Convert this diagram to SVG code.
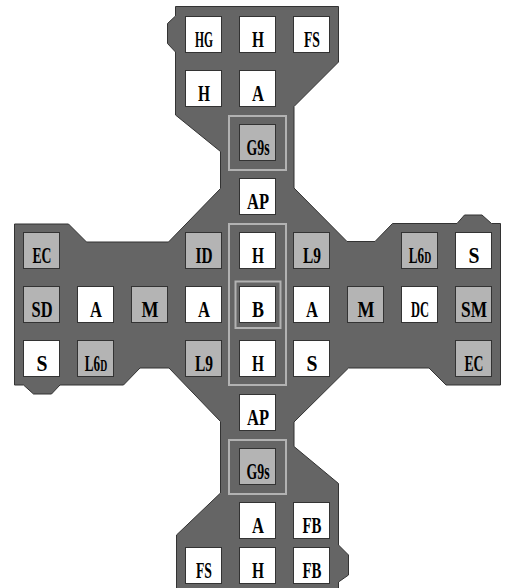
<svg xmlns="http://www.w3.org/2000/svg" width="509" height="588" viewBox="0 0 509 588">
<style>
.bg{fill:#656565;stroke:#333;stroke-width:1}
.fr{fill:none;stroke:#b2b2b2;stroke-width:2}
.w{fill:#fff;stroke:#333;stroke-width:1}
.g{fill:#b4b4b4;stroke:#333;stroke-width:1}
text{font-family:"Liberation Serif","Times New Roman",serif;font-size:23px;font-weight:bold;fill:#000;text-anchor:middle}
.sm{font-size:17px}
</style>
<polygon class="bg" points="175.5,6.5 338.5,6.5 338.5,62 294,106.5 294,188 347,241.5 375,241.5 392.5,223.5 457,223.5 464.5,215 482,215 491.5,223.5 500.5,223.5 500.5,385 446,385 429,368 348.5,368 294,422 294,446.5 338.5,483.5 338.5,545 348.5,555 348.5,575 338.5,582 338.5,600 176.5,600 176.5,535 220.5,493 220.5,421.5 169,368 140,368 123.5,385 60,385 51.5,394 33.5,394 23.5,385 14.5,385 14.5,224 68.5,224 86.5,242 168.5,242 220.5,188.5 220.5,151.5 175.5,115 175.5,52 167.5,43.5 167.5,23.5 175.5,16"/>
<g id="frames">
<rect class="fr" x="229" y="116" width="57" height="54"/>
<rect class="fr" x="229" y="224" width="57" height="161"/>
<rect class="fr" x="235.5" y="281.5" width="45" height="46.5"/>
<rect class="fr" x="229" y="440" width="57" height="54"/>
</g>
<g id="connectors"/>
<g id="n-HG"><rect class="w" x="185.5" y="16.5" width="36" height="36"/><text x="204" y="47" textLength="18" lengthAdjust="spacingAndGlyphs">HG</text></g>
<g id="n-H1"><rect class="w" x="239.5" y="16.5" width="36" height="36"/><text x="258" y="47" textLength="12" lengthAdjust="spacingAndGlyphs">H</text></g>
<g id="n-FS1"><rect class="w" x="293.5" y="16.5" width="36" height="36"/><text x="312" y="47" textLength="16" lengthAdjust="spacingAndGlyphs">FS</text></g>
<g id="n-H2"><rect class="w" x="185.5" y="70.5" width="36" height="36"/><text x="204" y="101" textLength="12" lengthAdjust="spacingAndGlyphs">H</text></g>
<g id="n-A1"><rect class="w" x="239.5" y="70.5" width="36" height="36"/><text x="258" y="101" textLength="12" lengthAdjust="spacingAndGlyphs">A</text></g>
<g id="n-G9s1"><rect class="g" x="239.5" y="124.5" width="36" height="36"/><text x="258" y="155" textLength="23" lengthAdjust="spacingAndGlyphs">G9s</text></g>
<g id="n-AP1"><rect class="w" x="239.5" y="178.5" width="36" height="36"/><text x="258" y="209" textLength="22" lengthAdjust="spacingAndGlyphs">AP</text></g>
<g id="n-EC1"><rect class="g" x="23.5" y="232.5" width="36" height="36"/><text x="42" y="263" textLength="19" lengthAdjust="spacingAndGlyphs">EC</text></g>
<g id="n-ID"><rect class="g" x="185.5" y="232.5" width="36" height="36"/><text x="204" y="263" textLength="17" lengthAdjust="spacingAndGlyphs">ID</text></g>
<g id="n-H3"><rect class="w" x="239.5" y="232.5" width="36" height="36"/><text x="258" y="263" textLength="12" lengthAdjust="spacingAndGlyphs">H</text></g>
<g id="n-L9a"><rect class="g" x="293.5" y="232.5" width="36" height="36"/><text x="312" y="263" textLength="18" lengthAdjust="spacingAndGlyphs">L9</text></g>
<g id="n-L6Da"><rect class="g" x="401.5" y="232.5" width="36" height="36"/><text transform="translate(420,263) scale(0.57,1)">L6<tspan class="sm">D</tspan></text></g>
<g id="n-S1"><rect class="w" x="455.5" y="232.5" width="36" height="36"/><text x="474" y="263" textLength="11" lengthAdjust="spacingAndGlyphs">S</text></g>
<g id="n-SD"><rect class="g" x="23.5" y="286.5" width="36" height="36"/><text x="42" y="317" textLength="21" lengthAdjust="spacingAndGlyphs">SD</text></g>
<g id="n-A2"><rect class="w" x="77.5" y="286.5" width="36" height="36"/><text x="96" y="317" textLength="12" lengthAdjust="spacingAndGlyphs">A</text></g>
<g id="n-M1"><rect class="g" x="131.5" y="286.5" width="36" height="36"/><text x="150" y="317" textLength="17" lengthAdjust="spacingAndGlyphs">M</text></g>
<g id="n-A3"><rect class="w" x="185.5" y="286.5" width="36" height="36"/><text x="204" y="317" textLength="12" lengthAdjust="spacingAndGlyphs">A</text></g>
<g id="n-B"><rect class="w" x="239.5" y="286.5" width="36" height="36"/><text x="258" y="317" textLength="12" lengthAdjust="spacingAndGlyphs">B</text></g>
<g id="n-A4"><rect class="w" x="293.5" y="286.5" width="36" height="36"/><text x="312" y="317" textLength="12" lengthAdjust="spacingAndGlyphs">A</text></g>
<g id="n-M2"><rect class="g" x="347.5" y="286.5" width="36" height="36"/><text x="366" y="317" textLength="17" lengthAdjust="spacingAndGlyphs">M</text></g>
<g id="n-DC"><rect class="w" x="401.5" y="286.5" width="36" height="36"/><text x="420" y="317" textLength="18" lengthAdjust="spacingAndGlyphs">DC</text></g>
<g id="n-SM"><rect class="g" x="455.5" y="286.5" width="36" height="36"/><text x="474" y="317" textLength="26" lengthAdjust="spacingAndGlyphs">SM</text></g>
<g id="n-S2"><rect class="w" x="23.5" y="340.5" width="36" height="36"/><text x="42" y="371" textLength="11" lengthAdjust="spacingAndGlyphs">S</text></g>
<g id="n-L6Db"><rect class="g" x="77.5" y="340.5" width="36" height="36"/><text transform="translate(96,371) scale(0.57,1)">L6<tspan class="sm">D</tspan></text></g>
<g id="n-L9b"><rect class="g" x="185.5" y="340.5" width="36" height="36"/><text x="204" y="371" textLength="18" lengthAdjust="spacingAndGlyphs">L9</text></g>
<g id="n-H4"><rect class="w" x="239.5" y="340.5" width="36" height="36"/><text x="258" y="371" textLength="12" lengthAdjust="spacingAndGlyphs">H</text></g>
<g id="n-S3"><rect class="w" x="293.5" y="340.5" width="36" height="36"/><text x="312" y="371" textLength="11" lengthAdjust="spacingAndGlyphs">S</text></g>
<g id="n-EC2"><rect class="g" x="455.5" y="340.5" width="36" height="36"/><text x="474" y="371" textLength="19" lengthAdjust="spacingAndGlyphs">EC</text></g>
<g id="n-AP2"><rect class="w" x="239.5" y="394.5" width="36" height="36"/><text x="258" y="425" textLength="22" lengthAdjust="spacingAndGlyphs">AP</text></g>
<g id="n-G9s2"><rect class="g" x="239.5" y="448.5" width="36" height="36"/><text x="258" y="479" textLength="23" lengthAdjust="spacingAndGlyphs">G9s</text></g>
<g id="n-A5"><rect class="w" x="239.5" y="502.5" width="36" height="36"/><text x="258" y="533" textLength="12" lengthAdjust="spacingAndGlyphs">A</text></g>
<g id="n-FB1"><rect class="w" x="293.5" y="502.5" width="36" height="36"/><text x="312" y="533" textLength="19" lengthAdjust="spacingAndGlyphs">FB</text></g>
<g id="n-FS2"><rect class="w" x="185.5" y="547.5" width="36" height="36"/><text x="204" y="578" textLength="16" lengthAdjust="spacingAndGlyphs">FS</text></g>
<g id="n-H5"><rect class="w" x="239.5" y="547.5" width="36" height="36"/><text x="258" y="578" textLength="12" lengthAdjust="spacingAndGlyphs">H</text></g>
<g id="n-FB2"><rect class="w" x="293.5" y="547.5" width="36" height="36"/><text x="312" y="578" textLength="19" lengthAdjust="spacingAndGlyphs">FB</text></g>
</svg>
